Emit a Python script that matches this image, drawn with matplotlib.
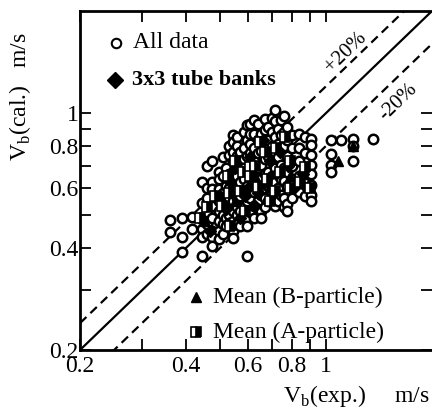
import numpy as np
import matplotlib
matplotlib.use('Agg')
import matplotlib.pyplot as plt
from matplotlib.ticker import NullFormatter

plt.rcParams['font.family'] = ['Liberation Serif', 'DejaVu Serif']
plt.rcParams['mathtext.fontset'] = 'custom'
plt.rcParams['mathtext.rm'] = 'Liberation Serif'

##DATA
# all data, grouped in columns of equal V_b(exp.)
all_x = [0.36, 0.39, 0.415, 0.445, 0.46, 0.475, 0.495, 0.51, 0.52, 0.53, 0.545, 0.56,
         0.57, 0.585, 0.595, 0.61, 0.625, 0.64, 0.655, 0.67, 0.685, 0.70, 0.715, 0.73,
         0.745, 0.76, 0.775, 0.80, 0.84, 0.87, 0.905, 1.03, 1.10, 1.19, 1.36]
all_y = [
    [0.485, 0.445],
    [0.49, 0.43, 0.388],
    [0.495, 0.455],
    [0.628, 0.542, 0.487, 0.455, 0.43, 0.38],
    [0.70, 0.60, 0.56, 0.51, 0.47, 0.44],
    [0.72, 0.628, 0.596, 0.531, 0.49, 0.449, 0.43, 0.405],
    [0.672, 0.637, 0.596, 0.55, 0.513, 0.48, 0.449, 0.425],
    [0.74, 0.65, 0.58, 0.54, 0.50, 0.47, 0.44],
    [0.69, 0.61, 0.57, 0.531, 0.49, 0.463],
    [0.80, 0.75, 0.66, 0.60, 0.56, 0.52, 0.50, 0.475],
    [0.86, 0.82, 0.77, 0.72, 0.672, 0.628, 0.59, 0.55, 0.513, 0.48, 0.449, 0.428],
    [0.85, 0.80, 0.745, 0.70, 0.65, 0.60, 0.56, 0.53, 0.50, 0.47],
    [0.77, 0.69, 0.628, 0.57, 0.513, 0.463],
    [0.88, 0.79, 0.73, 0.69, 0.64, 0.59, 0.53, 0.51],
    [0.92, 0.83, 0.745, 0.672, 0.61, 0.55, 0.49, 0.463, 0.38],
    [0.93, 0.87, 0.81, 0.76, 0.70, 0.66, 0.60, 0.56, 0.51],
    [0.953, 0.87, 0.79, 0.72, 0.65, 0.585, 0.531, 0.49],
    [0.93, 0.83, 0.76, 0.69, 0.62, 0.55, 0.52],
    [0.865, 0.775, 0.705, 0.637, 0.575, 0.513, 0.49],
    [0.96, 0.89, 0.80, 0.73, 0.66, 0.60, 0.56, 0.53],
    [0.91, 0.83, 0.745, 0.672, 0.61, 0.55],
    [0.97, 0.88, 0.80, 0.72, 0.65, 0.60, 0.56],
    [1.02, 0.945, 0.85, 0.77, 0.69, 0.628, 0.57, 0.531],
    [0.90, 0.81, 0.74, 0.66, 0.60, 0.55],
    [0.953, 0.86, 0.775, 0.705, 0.637, 0.575],
    [0.98, 0.88, 0.80, 0.69, 0.63, 0.56, 0.53],
    [0.91, 0.83, 0.745, 0.672, 0.61, 0.54, 0.513],
    [0.86, 0.79, 0.70, 0.64, 0.56],
    [0.87, 0.79, 0.72, 0.65, 0.585],
    [0.85, 0.76, 0.68, 0.62, 0.57],
    [0.84, 0.805, 0.754, 0.705, 0.659, 0.615, 0.575, 0.55],
    [0.835, 0.757, 0.705, 0.668],
    [0.835],
    [0.84, 0.80, 0.72],
    [0.84],
]

# 3x3 tube banks
tube_x = [0.468, 0.589, 0.671, 0.74, 0.533, 0.628, 0.816, 0.569, 0.693,
          0.50, 0.55, 0.61, 0.66, 0.72, 0.78, 0.52, 0.60, 0.86, 0.64]
tube_y = [0.449, 0.568, 0.628, 0.77, 0.628, 0.531, 0.607, 0.49, 0.72,
          0.57, 0.69, 0.74, 0.83, 0.66, 0.70, 0.52, 0.60, 0.66, 0.58]

# mean (B-particle)
meanB_x = [1.08, 1.19, 0.454, 0.551, 0.628, 0.693, 0.79]
meanB_y = [0.72, 0.80, 0.48, 0.55, 0.65, 0.607, 0.65]

# mean (A-particle)
meanA_x = [0.439, 0.483, 0.526, 0.569, 0.608, 0.641, 0.671, 0.693, 0.74, 0.79,
           0.843, 0.589, 0.506, 0.649, 0.764, 0.533, 0.716, 0.871, 0.608, 0.551,
           0.46, 0.53, 0.58, 0.63, 0.68, 0.72, 0.79, 0.90]
meanA_y = [0.49, 0.568, 0.65, 0.588, 0.695, 0.607, 0.77, 0.55, 0.672, 0.72,
           0.628, 0.513, 0.531, 0.822, 0.851, 0.463, 0.588, 0.695, 0.65, 0.72,
           0.53, 0.58, 0.67, 0.70, 0.64, 0.79, 0.60, 0.60]

line_x = np.array([0.2, 2.0])

major_ticks = [0.2, 0.4, 0.6, 0.8, 1.0]
major_labels = ['0.2', '0.4', '0.6', '0.8', '1']
minor_ticks = [0.3, 0.5, 0.7, 0.9]

##PLOT
fig = plt.figure(figsize=(4.32, 4.08), dpi=100)
ax = fig.add_axes([80/432, 1-350/408, 352/432, 339/408])
ax.set_xscale('log')
ax.set_yscale('log')

ax.plot(line_x, line_x, '-', color='black', lw=1.6, zorder=1)
ax.plot(line_x, line_x*1.2, '--', color='black', lw=1.6, dashes=(4, 2.5), zorder=1)
ax.plot(line_x, line_x*0.8, '--', color='black', lw=1.6, dashes=(4, 2.5), zorder=1)

for cx, cys in zip(all_x, all_y):
    ax.plot([cx]*len(cys), cys, 'o', ms=6.8, mfc='white', mec='black', mew=1.8, ls='none', zorder=2)
ax.plot(tube_x, tube_y, 'D', ms=6.5, color='black', ls='none', zorder=3)
ax.plot(meanB_x, meanB_y, '^', ms=7, color='black', ls='none', zorder=3)
ax.plot(meanA_x, meanA_y, 's', ms=6.5, mfc='black', mfcalt='white', fillstyle='right',
        mec='black', mew=1.2, ls='none', zorder=3)

ax.set_xlim(0.2, 2.0)
ax.set_ylim(0.2, 2.0)

for axis in (ax.xaxis, ax.yaxis):
    axis.set_ticks(major_ticks)
    axis.set_ticklabels(major_labels)
    axis.set_ticks(minor_ticks, minor=True)
    axis.set_minor_formatter(NullFormatter())
ax.tick_params(which='both', direction='in', length=8, width=1.3,
               top=True, right=True, labelsize=17)
ax.tick_params(axis='x', pad=4)
ax.tick_params(axis='y', pad=1)
for s in ('left', 'bottom', 'top'):
    ax.spines[s].set_linewidth(2)
ax.spines['right'].set_visible(False)

# legend keys drawn by hand
ax.plot([0.102], [0.906], 'o', ms=6.8, mfc='white', mec='black', mew=1.5, transform=ax.transAxes, clip_on=False)
ax.text(0.150, 0.906, 'All data', fontsize=17, va='center', transform=ax.transAxes)
ax.plot([0.099], [0.796], 'D', ms=8, color='black', transform=ax.transAxes, clip_on=False)
ax.text(0.148, 0.796, '3x3 tube banks', fontsize=16, fontweight='bold', va='center', transform=ax.transAxes)
ax.plot([0.33], [0.156], '^', ms=7, color='black', transform=ax.transAxes)
ax.text(0.378, 0.156, 'Mean (B-particle)', fontsize=17, va='center', transform=ax.transAxes)
ax.plot([0.33], [0.053], 's', ms=7, mfc='black', mfcalt='white', fillstyle='right',
        mec='black', mew=1.2, transform=ax.transAxes)
ax.text(0.378, 0.053, 'Mean (A-particle)', fontsize=17, va='center', transform=ax.transAxes)

ax.text(1.14, 1.51, '+20%', fontsize=15, rotation=44, ha='center', va='center')
ax.text(1.60, 1.08, '-20%', fontsize=15, rotation=44, ha='center', va='center')

fig.text(20/432, 1-97/408, r'V$_\mathrm{b}$(cal.)   m/s', fontsize=17, rotation=90,
         ha='center', va='center')
fig.text(430/432, 1-396/408, r'V$_\mathrm{b}$(exp.)     m/s', fontsize=17,
         ha='right', va='center')

plt.savefig('out.png', dpi=100)
